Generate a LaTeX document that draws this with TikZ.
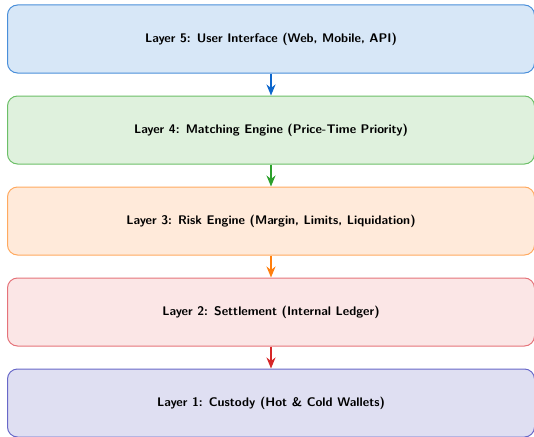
\documentclass[tikz,border=0pt]{standalone}
\usetikzlibrary{arrows.meta}
\definecolor{uiFill}{HTML}{D7E7F7}
\definecolor{uiLine}{HTML}{4A8FDA}
\definecolor{meFill}{HTML}{DFF1DD}
\definecolor{meLine}{HTML}{6CBF68}
\definecolor{reFill}{HTML}{FFEADA}
\definecolor{reLine}{HTML}{FFAA60}
\definecolor{stFill}{HTML}{FBE6E6}
\definecolor{stLine}{HTML}{E5737A}
\definecolor{cuFill}{HTML}{DFDFF2}
\definecolor{cuLine}{HTML}{6868C8}
\definecolor{arBlue}{HTML}{0D66CC}
\definecolor{arGreen}{HTML}{2CA02C}
\definecolor{arOrange}{HTML}{FF7F0E}
\definecolor{arRed}{HTML}{D62728}
\begin{document}
\begin{tikzpicture}[x=1pt,y=-1pt,
  layer/.style={draw, line width=1pt, rounded corners=10pt,
    minimum width=527pt, minimum height=68pt, inner sep=0pt,
    font=\sffamily\bfseries\fontsize{12.5}{15}\selectfont, anchor=center},
  flow/.style={-{Stealth[length=11pt,width=9pt,inset=3.5pt]}, line width=1.6pt}]
\useasboundingbox (0,0) rectangle (534,436);
\node[layer, fill=uiFill, draw=uiLine] (l5) at (271,39) {Layer 5: User Interface (Web, Mobile, API)};
\node[layer, fill=meFill, draw=meLine] (l4) at (271,130) {Layer 4: Matching Engine (Price-Time Priority)};
\node[layer, fill=reFill, draw=reLine] (l3) at (271,221) {Layer 3: Risk Engine (Margin, Limits, Liquidation)};
\node[layer, fill=stFill, draw=stLine] (l2) at (271,312) {Layer 2: Settlement (Internal Ledger)};
\node[layer, fill=cuFill, draw=cuLine] (l1) at (271,403) {Layer 1: Custody (Hot \& Cold Wallets)};
\draw[flow, arBlue] (l5.south) -- (l4.north);
\draw[flow, arGreen] (l4.south) -- (l3.north);
\draw[flow, arOrange] (l3.south) -- (l2.north);
\draw[flow, arRed] (l2.south) -- (l1.north);
\end{tikzpicture}
\end{document}
